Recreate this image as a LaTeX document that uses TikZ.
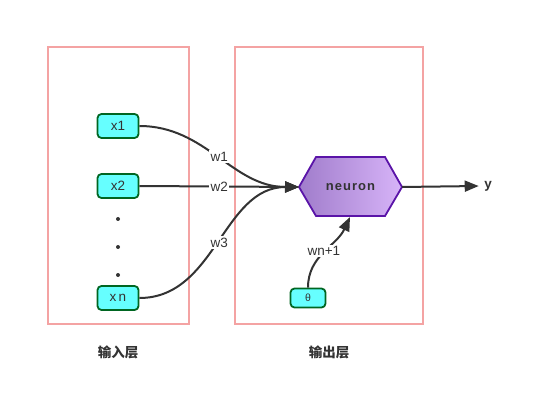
\documentclass[tikz,border=0pt]{standalone}
\usepackage{fontspec}
\setmainfont{Liberation Sans}
\newfontfamily\cjk{Noto Sans CJK SC}
\usetikzlibrary{arrows.meta,shapes.geometric}
\definecolor{boxpink}{HTML}{F4A3A3}
\definecolor{cyanfill}{HTML}{66FFFF}
\definecolor{greenline}{HTML}{006622}
\definecolor{txt}{HTML}{333333}
\definecolor{hexline}{HTML}{5A14A8}
\definecolor{hexdark}{HTML}{A07CCB}
\definecolor{hexlight}{HTML}{D7B4F8}
\tikzset{
  layerbox/.style={draw=boxpink, line width=1.8pt},
  innode/.style={draw=greenline, fill=cyanfill, rounded corners=4pt, line width=1.8pt,
     minimum width=41pt, minimum height=24pt, inner sep=0pt, font=\fontsize{13.5}{15}\selectfont, text=txt},
  wire/.style={draw=txt, line width=2pt},
  tip/.style={-{Triangle[length=14pt,width=11pt]}},
  wlabel/.style={fill=white, inner sep=1.5pt, font=\fontsize{13.5}{15}\selectfont, text=txt},
  dotnode/.style={circle, fill=txt, inner sep=0pt, minimum size=4pt},
  layerlabel/.style={font=\cjk\bfseries\fontsize{13.5}{15}\selectfont, text=txt}
}
\begin{document}
\begin{tikzpicture}[x=1pt,y=-1pt]
\useasboundingbox (0,0) rectangle (544,401);
\draw[layerbox] (48,47) rectangle (189,324);
\draw[layerbox] (235,47) rectangle (423,324);

\node[innode] (x1) at (118,126) {x1};
\node[innode] (x2) at (118,186) {x2};
\node[innode] (xn) at (118,298) {x\,n};
\node[dotnode] (d1) at (118,219) {};
\node[dotnode] (d2) at (118,247) {};
\node[dotnode] (d3) at (118,275) {};

\coordinate (hl) at (299,187);
\coordinate (htl) at (316,157);
\coordinate (htr) at (385,157);
\coordinate (hr) at (402,187);
\coordinate (hbr) at (385,216);
\coordinate (hbl) at (316,216);
\shade[left color=hexdark, right color=hexlight] (hl) -- (htl) -- (htr) -- (hr) -- (hbr) -- (hbl) -- cycle;
\draw[hexline, line width=1.8pt, line join=miter] (hl) -- (htl) -- (htr) -- (hr) -- (hbr) -- (hbl) -- cycle;
\node[font=\bfseries\fontsize{13}{14}\selectfont, text=txt] (neuron) at (350.5,187) {n\kern1pt e\kern1pt u\kern1pt r\kern1pt o\kern1pt n};
\coordinate (hb) at (350,216);

\node[innode, minimum width=35pt, minimum height=19pt, font=\fontsize{10.5}{11}\selectfont] (theta) at (308,298) {θ};

\draw[wire, tip] (x1.east) to[out=0,in=180] node[wlabel] {w1} (hl);
\draw[wire, tip] (x2.east) -- node[wlabel, pos=0.5] {w2} (hl);
\draw[wire, tip] (xn.east) to[out=0,in=180] node[wlabel] {w3} (hl);
\draw[wire, tip] (theta.north) to[out=90,in=-115] node[wlabel] {wn+1} ([yshift=-1pt]hb);

\node[font=\bfseries\fontsize{13.5}{14}\selectfont, text=txt] (y) at (488,186) {y};
\draw[wire, tip] (hr) -- ([xshift=-2pt]y.west);

\node[layerlabel] (l1) at (118,352) {输入层};
\node[layerlabel] (l2) at (329,352) {输出层};
\end{tikzpicture}
\end{document}
